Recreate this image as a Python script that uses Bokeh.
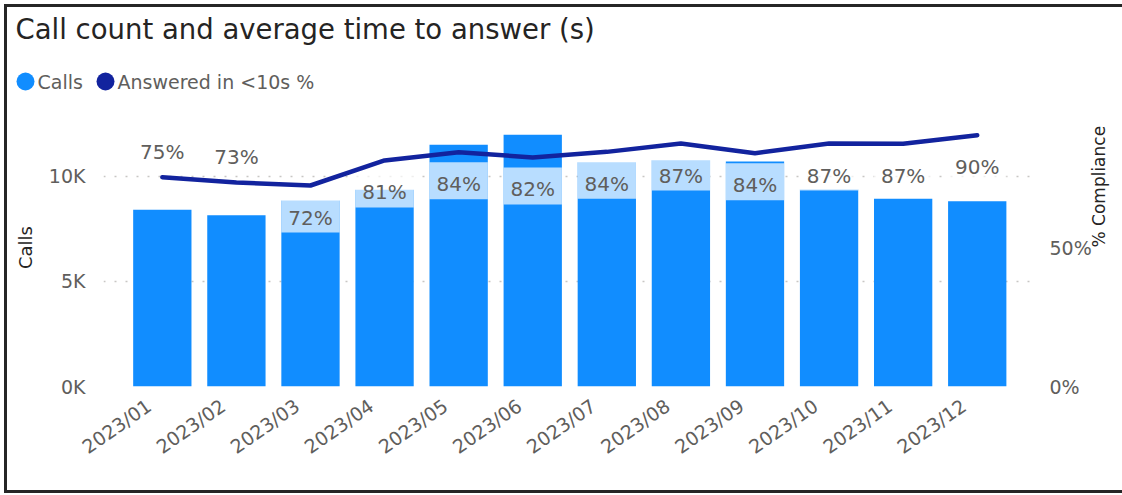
import math
from bokeh.plotting import figure
from bokeh.layouts import column
from bokeh.models import (Range1d, LinearAxis, FixedTicker, NumeralTickFormatter,
                          CustomJSTickFormatter, ColumnDataSource)
from bokeh.embed import file_html
from bokeh.resources import INLINE
from bokeh.core.properties import value

# ---------------- data ----------------
title_text = "Call count and average time to answer (s)"
series_names = ["Calls", "Answered in <10s %"]
months = ["2023/01", "2023/02", "2023/03", "2023/04", "2023/05", "2023/06",
          "2023/07", "2023/08", "2023/09", "2023/10", "2023/11", "2023/12"]
calls = [8414, 8157, 8857, 9367, 11510, 11986, 10681, 10776, 10714, 9381, 8936, 8824]
answered_pct = [75.3, 73.4, 72.3, 81.3, 84.3, 82.4, 84.4, 87.4, 83.9, 87.4, 87.3, 90.4]
calls_ticks = [0, 5000, 10000]
pct_ticks = [0, 0.5]
calls_max = 13238
labels_above = {"2023/01", "2023/02"}

# ---------------- style ----------------
FONT = "DejaVu Sans"
W = 1122
TOP_H, MAIN_H = 108, 387
MB_L, MB_R, MB_B = 103, 86, 109
FRAME_H = MAIN_H - MB_B
BAR_BLUE = "#118DFF"
LINE_NAVY = "#12239E"
GRAY = "#605E5C"
DARK = "#252423"
BORDER = "#262626"
ABOVE_PX, BELOW_PX = 25, 32
BG_H_PX, BG_SHIFT_PX = 37, 3.5
XLABEL_SHIFT = 0.18   # category units, moves rotated month labels left

def no_align(fig):
    if "frame_align" in fig.properties():
        fig.frame_align = False

# ---------------- header (title + legend) ----------------
top = figure(width=W, height=TOP_H, output_backend="svg", toolbar_location=None,
             x_range=Range1d(0, W), y_range=Range1d(TOP_H, 0),
             x_axis_location=None, y_axis_location=None,
             min_border_left=0, min_border_right=0, min_border_top=0, min_border_bottom=0)
no_align(top)
top.title_location = None
top.xgrid.visible = False
top.ygrid.visible = False
top.outline_line_color = None
top.background_fill_color = None
top.border_fill_color = None
top.styles = {"box-shadow": ("inset 4px 0 0 white, inset 0 4px 0 white, "
                             "inset 7px 0 0 %s, inset 0 7px 0 %s" % (BORDER, BORDER)),
              "background-color": "white"}
top.text(x=[15], y=[28], text=[title_text], text_font=value(FONT), text_font_size="27.5px",
         text_color=DARK, text_baseline="middle", text_align="left")
top.scatter(x=[25, 105], y=[81, 81], marker="circle", size=18,
            fill_color=[BAR_BLUE, LINE_NAVY], line_color=None)
top.text(x=[37, 117], y=[81, 81], text=series_names, text_font=value(FONT),
         text_font_size="19px", text_color=GRAY, text_baseline="middle",
         text_align="left")

# ---------------- main chart ----------------
xs = list(range(len(months)))
frac = [v / 100 for v in answered_pct]
above = [m in labels_above for m in months]
src = ColumnDataSource(dict(
    x=xs, calls=calls, pct=frac,
    label=[f"{round(v)}%" for v in answered_pct],
    yoff=[-ABOVE_PX if a else BELOW_PX for a in above],
))
bg_x = [x for x, a in zip(xs, above) if not a]
bg_y = [f - (BELOW_PX - BG_SHIFT_PX) / FRAME_H for f, a in zip(frac, above) if not a]

p = figure(width=W, height=MAIN_H, output_backend="svg", toolbar_location=None,
           x_range=Range1d(-0.794, len(months) - 1 + 0.80),
           y_range=Range1d(0, calls_max),
           min_border_left=MB_L, min_border_top=0,
           min_border_right=MB_R, min_border_bottom=MB_B)
no_align(p)
p.title_location = None
p.extra_y_ranges = {"pct": Range1d(0, 1.0)}
p.outline_line_color = None
p.background_fill_color = "white"
p.border_fill_color = None
p.styles = {"box-shadow": ("inset 4px 0 0 white, inset 0 -2px 0 white, "
                           "inset 7px 0 0 %s, inset 0 -5px 0 %s" % (BORDER, BORDER)),
            "background-color": "white"}

# grid
p.xgrid.visible = False
p.ygrid.ticker = FixedTicker(ticks=calls_ticks)
p.ygrid.grid_line_color = "#C8C6C4"
p.ygrid.grid_line_dash = "2 9"
p.ygrid.grid_line_width = 1.5

# bars
p.vbar(x="x", top="calls", width=0.787, source=src, fill_color=BAR_BLUE, line_color=None)
# label background (semi-transparent white, visible over bars)
p.rect(x=bg_x, y=bg_y, width=0.787, height=BG_H_PX / FRAME_H, y_range_name="pct",
       fill_color="white", fill_alpha=0.7, line_color=None)
# line
p.line(x="x", y="pct", source=src, y_range_name="pct", line_color=LINE_NAVY,
       line_width=4.5, line_join="round", line_cap="round")
# data labels
p.text(x="x", y="pct", text="label", y_offset="yoff", source=src, y_range_name="pct",
       text_align="center", text_baseline="middle", text_font=value(FONT),
       text_font_size="20px", text_color=GRAY)

# axes
ax = p.yaxis[0]
ax.ticker = FixedTicker(ticks=calls_ticks)
ax.formatter = CustomJSTickFormatter(code="return (tick/1000).toFixed(0) + 'K'")
ax.axis_line_color = None
ax.major_tick_line_color = None
ax.major_tick_out = 0
ax.major_tick_in = 0
ax.minor_tick_line_color = None
ax.major_label_text_font = FONT
ax.major_label_text_font_size = "19px"
ax.major_label_text_color = GRAY
ax.major_label_standoff = 18
ax.axis_label = series_names[0]
ax.axis_label_text_font = FONT
ax.axis_label_text_font_size = "18px"
ax.axis_label_text_font_style = "normal"
ax.axis_label_text_color = DARK
ax.axis_label_standoff = 10

rax = LinearAxis(y_range_name="pct", ticker=FixedTicker(ticks=pct_ticks),
                 formatter=NumeralTickFormatter(format="0%"))
rax.axis_line_color = None
rax.major_tick_line_color = None
rax.major_tick_out = 0
rax.major_tick_in = 0
rax.minor_tick_line_color = None
rax.major_label_text_font = FONT
rax.major_label_text_font_size = "19px"
rax.major_label_text_color = GRAY
rax.major_label_standoff = 13
rax.axis_label = "% Compliance"
rax.axis_label_text_font = FONT
rax.axis_label_text_font_size = "17px"
rax.axis_label_text_font_style = "normal"
rax.axis_label_text_color = DARK
rax.axis_label_standoff = 4
if "axis_label_orientation" in rax.properties():
    rax.axis_label_orientation = math.pi / 2
p.add_layout(rax, "right")

xa = p.xaxis[0]
xa.ticker = FixedTicker(ticks=[x - XLABEL_SHIFT for x in xs])
xa.formatter = CustomJSTickFormatter(args=dict(months=months, shift=XLABEL_SHIFT),
                                     code="return months[Math.round(tick + shift)]")
xa.major_label_orientation = math.radians(35)
xa.axis_line_color = None
xa.major_tick_line_color = None
xa.major_tick_out = 0
xa.major_tick_in = 0
xa.minor_tick_line_color = None
xa.major_label_text_font = FONT
xa.major_label_text_font_size = "19px"
xa.major_label_text_color = GRAY
xa.major_label_standoff = 17

layout = column(top, p, spacing=0)
open("out.html", "w").write(file_html(layout, INLINE))
